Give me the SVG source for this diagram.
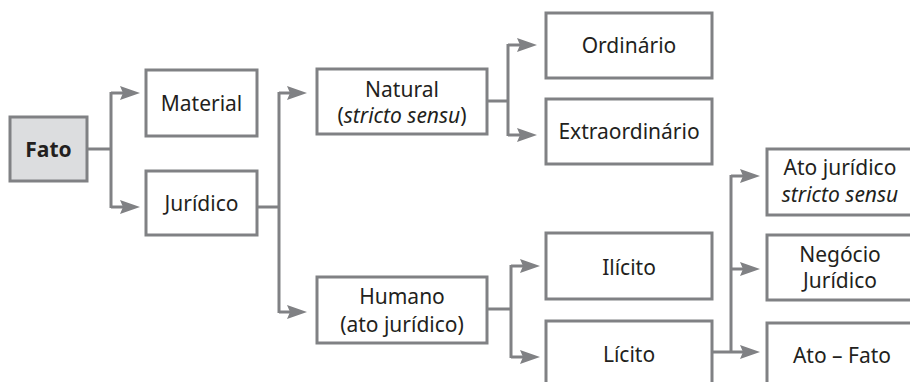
<svg xmlns="http://www.w3.org/2000/svg" width="910" height="382" viewBox="0 0 910 382">
  <style>
    .box { fill: #ffffff; stroke: #808184; stroke-width: 3; }
    .root { fill: #dcdddf; stroke: #808184; stroke-width: 3; }
    .lbl { font-family: "Noto Sans", "Open Sans", sans-serif; font-size: 21px; fill: #231f20; text-anchor: middle; }
    .bold { font-weight: bold; }
    .it { font-style: italic; }
    .wire { fill: none; stroke: #808184; stroke-width: 3; }
    .arr { fill: none; stroke: #808184; stroke-width: 3; marker-end: url(#head); }
  </style>
  <defs>
    <marker id="head" viewBox="0 0 20 14" refX="10" refY="7" markerWidth="20" markerHeight="14" markerUnits="userSpaceOnUse" orient="auto">
      <path d="M0,0 L20,7 L0,14 L3,7 z" fill="#808184"/>
    </marker>
  </defs>

  <rect width="910" height="382" fill="#ffffff"/>

  <!-- connectors -->
  <g id="connectors">
    <!-- Fato -> Material / Jurídico -->
    <path class="wire" d="M87,149 H111 M111,92 V208"/>
    <path class="arr" d="M111,93 H130"/>
    <path class="arr" d="M111,207 H130"/>
    <!-- Jurídico -> Natural / Humano -->
    <path class="wire" d="M257,207 H279 M279,92 V313"/>
    <path class="arr" d="M279,93 H297"/>
    <path class="arr" d="M279,312 H297"/>
    <!-- Natural -> Ordinário / Extraordinário -->
    <path class="wire" d="M487,101 H508 M508,44 V136"/>
    <path class="arr" d="M508,45 H527"/>
    <path class="arr" d="M508,135 H527"/>
    <!-- Humano -> Ilícito / Lícito -->
    <path class="wire" d="M487,309 H511 M511,265 V358"/>
    <path class="arr" d="M511,266 H530"/>
    <path class="arr" d="M511,357 H530"/>
    <!-- Lícito -> Ato jurídico / Negócio / Ato–Fato -->
    <path class="wire" d="M731,175 V352"/>
    <path class="arr" d="M712,352 H750"/>
    <path class="arr" d="M731,176 H750"/>
    <path class="arr" d="M731,269 H750"/>
  </g>

  <g id="fato">
    <rect class="root" x="10" y="117" width="77" height="64"/>
    <text class="lbl bold" x="48.5" y="157">Fato</text>
  </g>

  <g id="material">
    <rect class="box" x="146" y="70" width="111" height="66"/>
    <text class="lbl" x="201.5" y="111">Material</text>
  </g>

  <g id="juridico">
    <rect class="box" x="146" y="171" width="111" height="64"/>
    <text class="lbl" x="201.5" y="211">Jurídico</text>
  </g>

  <g id="natural">
    <rect class="box" x="317" y="69" width="170" height="65"/>
    <text class="lbl" x="402" y="97">Natural</text>
    <text class="lbl" x="402" y="123">(<tspan class="it">stricto sensu</tspan>)</text>
  </g>

  <g id="humano">
    <rect class="box" x="317" y="277" width="170" height="66"/>
    <text class="lbl" x="402" y="304">Humano</text>
    <text class="lbl" x="402" y="332">(ato jurídico)</text>
  </g>

  <g id="ordinario">
    <rect class="box" x="546" y="13" width="166" height="65"/>
    <text class="lbl" x="629" y="53">Ordinário</text>
  </g>

  <g id="extraordinario">
    <rect class="box" x="546" y="99" width="166" height="65"/>
    <text class="lbl" x="629" y="139">Extraordinário</text>
  </g>

  <g id="ilicito">
    <rect class="box" x="546" y="233" width="166" height="66"/>
    <text class="lbl" x="629" y="275">Ilícito</text>
  </g>

  <g id="licito">
    <rect class="box" x="546" y="321" width="166" height="80"/>
    <text class="lbl" x="629" y="362">Lícito</text>
  </g>

  <g id="ato-juridico">
    <rect class="box" x="767" y="149" width="160" height="66"/>
    <text class="lbl" x="840" y="175">Ato jurídico</text>
    <text class="lbl it" x="840" y="202">stricto sensu</text>
  </g>

  <g id="negocio">
    <rect class="box" x="767" y="235" width="160" height="65"/>
    <text class="lbl" x="840" y="262">Negócio</text>
    <text class="lbl" x="840" y="288">Jurídico</text>
  </g>

  <g id="ato-fato">
    <rect class="box" x="767" y="323" width="160" height="80"/>
    <text class="lbl" x="842" y="363">Ato – Fato</text>
  </g>
</svg>
